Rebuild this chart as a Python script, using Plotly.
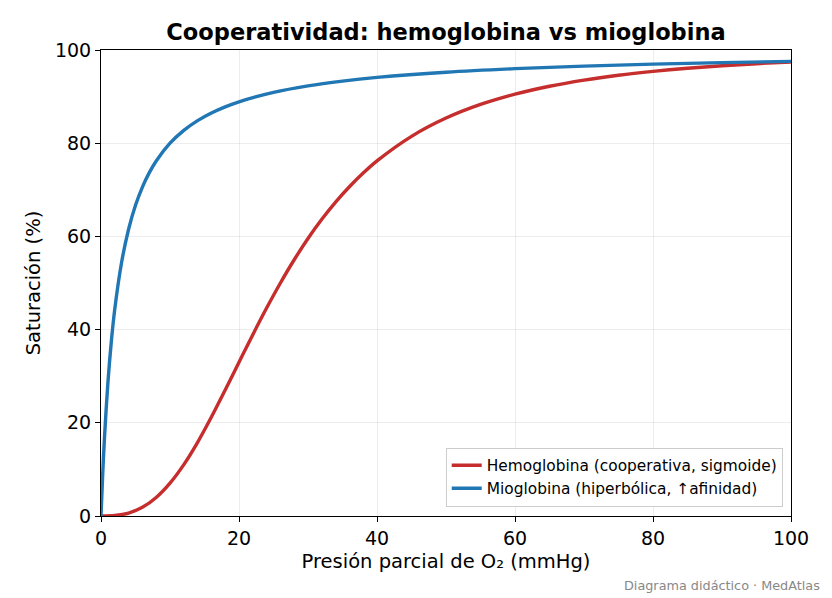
import plotly.graph_objects as go

# Hemoglobina (sigmoide)
hb_po2 = [0, 2, 4, 6, 8, 10, 12, 14, 16, 18, 20, 22, 24, 26, 28, 30, 32, 34, 36, 38,
          40, 45, 50, 55, 60, 65, 70, 75, 80, 85, 90, 95, 100]
hb_sat = [0.0, 0.1, 0.63, 1.87, 3.98, 7.05, 11.03, 15.82, 21.24, 27.04, 33.0, 38.91,
          44.62, 50.0, 54.99, 59.54, 63.66, 67.36, 70.65, 73.59, 76.2, 81.47, 85.39,
          88.32, 90.53, 92.23, 93.55, 94.59, 95.41, 96.08, 96.62, 97.06, 97.44]

# Mioglobina (hiperbólica)
mb_po2 = [0, 0.25, 0.5, 1, 1.5, 2, 3, 4, 5, 6, 7, 8, 10, 12, 14, 16, 18, 20, 25, 30,
          35, 40, 50, 60, 70, 80, 90, 100]
mb_sat = [0.0, 9.09, 16.67, 28.57, 37.5, 44.44, 54.55, 61.54, 66.67, 70.59, 73.68,
          76.19, 80.0, 82.76, 84.85, 86.49, 87.8, 88.89, 90.91, 92.31, 93.33, 94.12,
          95.24, 96.0, 96.55, 96.97, 97.3, 97.56]

fig = go.Figure()

fig.add_trace(go.Scatter(
    x=hb_po2, y=hb_sat, mode="lines",
    name="Hemoglobina (cooperativa, sigmoide)",
    line=dict(color="#c62d2d", width=3.4, shape="spline")
))
fig.add_trace(go.Scatter(
    x=mb_po2, y=mb_sat, mode="lines",
    name="Mioglobina (hiperbólica, ↑afinidad)",
    line=dict(color="#2077b4", width=3.4, shape="spline")
))

axis_common = dict(
    showline=True, linecolor="black", linewidth=1, mirror=True,
    ticks="outside", ticklen=5, tickcolor="black",
    showgrid=True, gridcolor="rgba(0,0,0,0.07)", gridwidth=1,
    zeroline=False, tickfont=dict(size=19, color="black"),
)

# la página añade ~8px de margen, así que la figura es algo más pequeña
fig.update_layout(
    width=824, height=590,
    paper_bgcolor="white", plot_bgcolor="white",
    font=dict(family="DejaVu Sans", color="black"),
    title=dict(text="<b>Cooperatividad: hemoglobina vs mioglobina</b>",
               xref="paper", x=0.5, xanchor="center", y=1 - 24 / 590, yanchor="middle",
               font=dict(size=22.5)),
    margin=dict(l=93, r=41, t=42, b=82),
    xaxis=dict(range=[0, 100], dtick=20,
               title=dict(text="Presión parcial de O₂ (mmHg)", font=dict(size=19.5), standoff=6),
               **axis_common),
    yaxis=dict(range=[0, 100], dtick=20,
               title=dict(text="Saturación (%)", font=dict(size=19.5), standoff=9),
               **axis_common),
    legend=dict(x=0.988, y=0.02, xanchor="right", yanchor="bottom",
                bgcolor="rgba(255,255,255,0.9)", bordercolor="#cccccc", borderwidth=1,
                font=dict(size=15.4), tracegroupgap=0),
    showlegend=True,
    annotations=[dict(
        text="Diagrama didáctico · MedAtlas", xref="paper", yref="paper",
        x=1.045, y=-0.128, xanchor="right", yanchor="top", showarrow=False,
        font=dict(size=12.8, color="#888888")
    )]
)

fig.write_html("out.html")
